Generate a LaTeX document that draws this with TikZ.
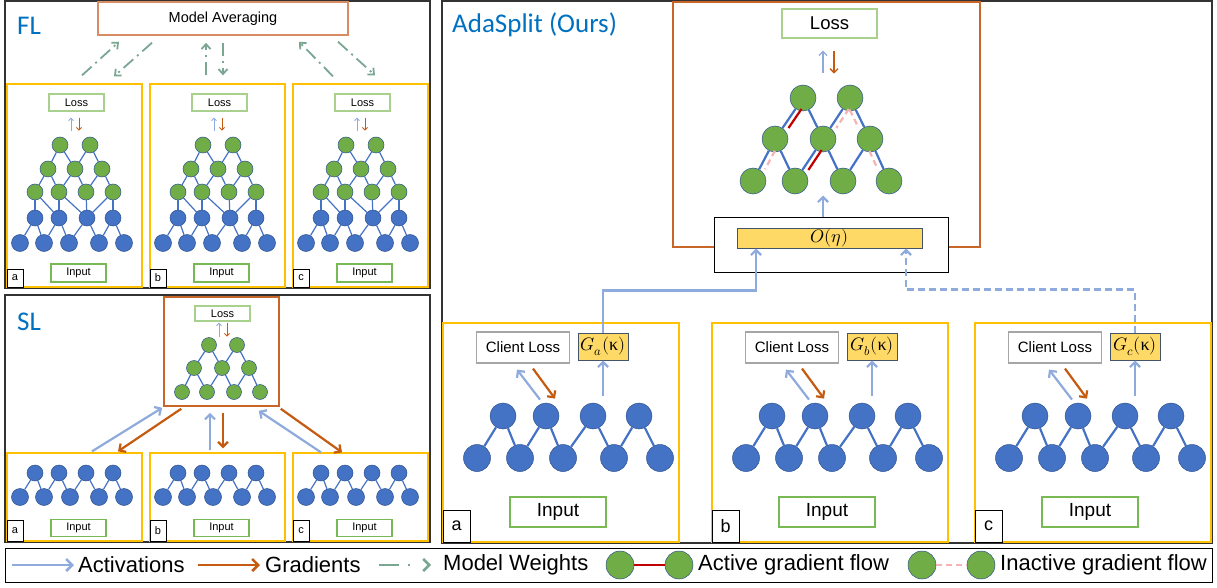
\documentclass[tikz,border=0pt]{standalone}
\usepackage{fontspec}
\usepackage{unicode-math}
\setmainfont{Liberation Sans}
\setmathfont{Latin Modern Math}
\newfontfamily\titlefont{Carlito}
\newfontfamily\greekfont{Liberation Serif}
\usetikzlibrary{arrows.meta}

\newcommand{\fsz}[1]{\fontsize{#1}{#1}\selectfont}

\definecolor{titleblue}{RGB}{0,112,192}
\definecolor{nodeblue}{RGB}{68,114,196}
\definecolor{nodeline}{RGB}{47,82,143}
\definecolor{nodegreen}{RGB}{112,173,71}
\definecolor{actblue}{RGB}{143,170,220}
\definecolor{gradorange}{RGB}{197,90,17}
\definecolor{weightgreen}{RGB}{122,166,146}
\definecolor{clientyellow}{RGB}{255,192,0}
\definecolor{lossgreen}{RGB}{169,209,142}
\definecolor{inputgreen}{RGB}{120,185,85}
\definecolor{avgorange}{RGB}{216,140,100}
\definecolor{serverorange}{RGB}{200,102,42}
\definecolor{gyellow}{RGB}{255,217,102}
\definecolor{gborder}{RGB}{68,84,106}
\definecolor{activered}{RGB}{192,0,0}
\definecolor{inactivepink}{RGB}{244,180,180}
\definecolor{clientgray}{RGB}{166,166,166}

\tikzset{
  panel/.style={draw=black!80, line width=1.2},
  clientbox/.style={draw=clientyellow, line width=1.3, inner sep=0},
  serverbox/.style={draw=serverorange, line width=1.6, inner sep=0},
  bluenode/.style={circle, fill=nodeblue, draw=nodeline, line width=0.5, inner sep=0, minimum size=16},
  greennode/.style={bluenode, fill=nodegreen},
  netedge/.style={draw=nodeblue, line width=1.2},
  textbox/.style={fill=white, line width=1.2, inner sep=0},
  lossbox/.style={textbox, draw=lossgreen},
  inputbox/.style={textbox, draw=inputgreen},
  tagbox/.style={textbox, draw=black, line width=0.9},
  gbox/.style={fill=gyellow, draw=gborder, line width=1, inner sep=0},
  act/.style={draw=actblue, line width=2.2, -{Straight Barb[length=5pt,width=10pt]}},
  grad/.style={draw=gradorange, line width=2.2, -{Straight Barb[length=5pt,width=10pt]}},
  smallact/.style={act, line width=0.9, -{Straight Barb[length=2.5pt,width=5pt]}},
  smallgrad/.style={grad, line width=0.9, -{Straight Barb[length=2.5pt,width=5pt]}},
  weights/.style={draw=weightgreen, line width=1.8, dash pattern=on 13pt off 5pt on 2pt off 5pt, -{Straight Barb[length=5pt,width=9pt]}},
  activeflow/.style={draw=activered, line width=2.2},
  inactiveflow/.style={draw=inactivepink, line width=2.2, dash pattern=on 6pt off 4pt},
  legendtext/.style={anchor=west, inner sep=0, font=\fsz{22}},
}

\begin{document}
\begin{tikzpicture}[x=1pt, y=-1pt]
  \useasboundingbox (0,0) rectangle (1217,588);

  % ----- FL -----
  \draw[panel] (5,1) rectangle (430,288);
  \node[anchor=west, inner sep=0, text=titleblue, font=\titlefont\fsz{27}] (FLtitle) at (17,26) {FL};
  \node[draw=avgorange, line width=1.5, fill=white, minimum width=250, minimum height=33, font=\fsz{14.5}] (avg) at (223,18.5) {Model Averaging};
  \foreach \c/\L in {a/7,b/150,c/293}{
    \node[clientbox, minimum width=135, minimum height=203] (FL\c_box) at (\L+67.5,185.5) {};
    \node[lossbox, minimum width=55, minimum height=17, font=\fsz{11}] (FL\c_loss) at (\L+69.5,102.5) {Loss};
    \node[inputbox, minimum width=55, minimum height=18, font=\fsz{11}] (FL\c_in) at (\L+71.5,273) {Input};
    \node[tagbox, minimum width=16, minimum height=18, font=\fsz{11}] (FL\c_tag) at (\L+8,278) {\c};
    \foreach \i/\x in {1/53,2/83} \node[greennode] (FL\c_1_\i) at (\L+\x,145) {};
    \foreach \i/\x in {1/41,2/68,3/95} \node[greennode] (FL\c_2_\i) at (\L+\x,169) {};
    \foreach \i/\x in {1/28,2/52,3/79,4/106} \node[greennode] (FL\c_3_\i) at (\L+\x,192) {};
    \foreach \i/\x in {1/28,2/52,3/80,4/106} \node[bluenode] (FL\c_4_\i) at (\L+\x,218) {};
    \foreach \i/\x in {1/13,2/37,3/62,4/92,5/117} \node[bluenode, minimum size=17] (FL\c_5_\i) at (\L+\x,243) {};
    \foreach \i/\j in {1/1,1/2,2/2,2/3} \draw[netedge] (FL\c_1_\i) -- (FL\c_2_\j);
    \foreach \i/\j in {1/1,1/2,2/2,2/3,3/3,3/4} \draw[netedge] (FL\c_2_\i) -- (FL\c_3_\j);
    \foreach \i/\j in {1/1,1/2,2/2,2/3,3/3,4/3,4/4} \draw[netedge] (FL\c_3_\i) -- (FL\c_4_\j);
    \foreach \i/\j in {1/1,1/2,2/2,2/3,3/3,3/4,4/4,4/5} \draw[netedge] (FL\c_4_\i) -- (FL\c_5_\j);
    \draw[smallact] ([shift={(-5.5,19)}]FL\c_loss.south) -- ++(0,-13);
    \draw[smallgrad] ([shift={(2.5,6)}]FL\c_loss.south) -- ++(0,13);
  }
  \draw[weights] ([shift={(7.5,-8)}]FLa_box.north) -- ([shift={(-104,6)}]avg.south);
  \draw[weights] ([shift={(-71,7)}]avg.south) -- ([shift={(39.5,-7)}]FLa_box.north);
  \draw[weights] ([shift={(-11.5,-8)}]FLb_box.north) -- ([shift={(-17,7)}]avg.south);
  \draw[weights] ([shift={(0,7)}]avg.south) -- ([shift={(5.5,-8)}]FLb_box.north);
  \draw[weights] ([shift={(-27.5,-7)}]FLc_box.north) -- ([shift={(76,6)}]avg.south);
  \draw[weights] ([shift={(115,6)}]avg.south) -- ([shift={(14.5,-8)}]FLc_box.north);

  % ----- SL -----
  \draw[panel] (5,295) rectangle (430,542);
  \node[anchor=west, inner sep=0, text=titleblue, font=\titlefont\fsz{27}] (SLtitle) at (17,322) {SL};
  \node[serverbox, minimum width=115, minimum height=109] (SLsrv) at (221.5,351.5) {};
  \node[lossbox, minimum width=55, minimum height=15, font=\fsz{11}] (SLloss) at (222.5,313.5) {Loss};
  \foreach \i/\x in {1/209,2/237} \node[greennode, minimum size=15] (SL_1_\i) at (\x,345) {};
  \foreach \i/\x in {1/194,2/222,3/249} \node[greennode, minimum size=15] (SL_2_\i) at (\x,368) {};
  \foreach \i/\x in {1/182,2/207,3/234,4/260} \node[greennode, minimum size=15] (SL_3_\i) at (\x,392) {};
  \foreach \i/\j in {1/1,1/2,2/2,2/3} \draw[netedge] (SL_1_\i) -- (SL_2_\j);
  \foreach \i/\j in {1/1,1/2,2/2,2/3,3/3,3/4} \draw[netedge] (SL_2_\i) -- (SL_3_\j);
  \draw[smallact] ([shift={(-3.5,15)}]SLloss.south) -- ++(0,-14);
  \draw[smallgrad] ([shift={(4.5,1)}]SLloss.south) -- ++(0,14);
  \foreach \c/\L in {a/7,b/150,c/293}{
    \node[clientbox, minimum width=135, minimum height=88] (SL\c_box) at (\L+67.5,497) {};
    \node[inputbox, minimum width=55, minimum height=17, font=\fsz{11}] (SL\c_in) at (\L+71.5,528) {Input};
    \node[tagbox, minimum width=16, minimum height=21, font=\fsz{11}] (SL\c_tag) at (\L+8,530.5) {\c};
    \foreach \i/\x in {1/28,2/52,3/79,4/106} \node[bluenode] (SL\c_1_\i) at (\L+\x,473) {};
    \foreach \i/\x in {1/13,2/37,3/63,4/92,5/117} \node[bluenode, minimum size=17] (SL\c_2_\i) at (\L+\x,497) {};
    \foreach \i/\j in {1/1,1/2,2/2,2/3,3/3,3/4,4/4,4/5} \draw[netedge] (SL\c_1_\i) -- (SL\c_2_\j);
  }
  \draw[act] ([shift={(17.5,-1)}]SLa_box.north) -- ([shift={(-1,1)}]SLsrv.south west);
  \draw[grad] ([shift={(18,2)}]SLsrv.south west) -- ([shift={(43.5,-1)}]SLa_box.north);
  \draw[act] ([shift={(-7.5,-2)}]SLb_box.north) -- ([shift={(-11.5,6)}]SLsrv.south);
  \draw[grad] ([shift={(1.5,6)}]SLsrv.south) -- ([shift={(5.5,-4)}]SLb_box.north);
  \draw[act] ([shift={(-39.5,0)}]SLc_box.north) -- ([shift={(-21,4)}]SLsrv.south east);
  \draw[grad] ([shift={(1,2)}]SLsrv.south east) -- ([shift={(-18.5,0)}]SLc_box.north);

  % ----- AdaSplit -----
  \draw[panel] (442,1) rectangle (1212,543);
  \node[anchor=west, inner sep=0, text=titleblue, font=\titlefont\fsz{27}] (AStitle) at (452,25) {AdaSplit (Ours)};
  \node[serverbox, line width=2, minimum width=307, minimum height=245] (ASsrv) at (826.5,124.5) {};
  \node[lossbox, minimum width=95, minimum height=29, font=\fsz{18.5}] (ASloss) at (829.5,23.5) {Loss};
  \draw[act, line width=1.3, -{Straight Barb[length=4pt,width=8pt]}] ([shift={(-6.5,34)}]ASloss.south) -- ++(0,-22);
  \draw[grad, line width=1.3, -{Straight Barb[length=4pt,width=8pt]}] ([shift={(4.5,12)}]ASloss.south) -- ++(0,23);
  \foreach \i/\x/\y in {1/803/98,2/850/98,3/775/139,4/823/139,5/870/139,6/753/181,7/795/181,8/843/181,9/889/181}
    \node[greennode, minimum size=26] (AS_\i) at (\x,\y) {};
  \foreach \i/\j in {1/3,1/4,2/4,2/5,3/6,3/7,4/7,4/8,5/8,5/9} \draw[netedge, line width=2.2] (AS_\i) -- (AS_\j);
  \draw[activeflow, transform canvas={xshift=6pt}] (AS_1) -- (AS_3);
  \draw[activeflow, transform canvas={xshift=6pt}] (AS_4) -- (AS_7);
  \draw[inactiveflow, transform canvas={xshift=6pt}] (AS_2) -- (AS_4);
  \draw[inactiveflow, transform canvas={xshift=-6pt}] (AS_2) -- (AS_5);
  \draw[inactiveflow, transform canvas={xshift=6pt}] (AS_3) -- (AS_6);
  \draw[inactiveflow, transform canvas={xshift=-6pt}] (AS_5) -- (AS_9);
  \node[draw=black, fill=white, line width=1, minimum width=234, minimum height=55] (obox) at (831,244.5) {};
  \node[gbox, minimum width=185, minimum height=20, font=\fsz{18}] (obar) at (829.5,238) {$O(\eta)$};
  \draw[act] ([xshift=-8pt]obox.north) -- ++(0,-21);
  \foreach \c/\L in {a/443,b/712,c/975}{
    \node[clientbox, minimum width=236, minimum height=219] (AS\c_box) at (\L+118,432.5) {};
    \node[textbox, draw=clientgray, minimum width=93, minimum height=31, font=\fsz{15}] (AS\c_cl) at (\L+80,347.5) {Client Loss};
    \node[gbox, minimum width=50, minimum height=27, font=\fsz{18}] (AS\c_g) at (\L+160,346.5) {$G_\c(\mbox{\greekfont κ})$};
    \node[inputbox, minimum width=96, minimum height=30, font=\fsz{19}] (AS\c_in) at (\L+115,512) {Input};
    \node[tagbox, minimum width=27, minimum height=32, font=\fsz{18}] (AS\c_tag) at (\L+13.5,526) {\c};
    \foreach \i/\x in {1/60,2/103,3/150,4/196} \node[bluenode, minimum size=26] (AS\c_1_\i) at (\L+\x,416) {};
    \foreach \i/\x in {1/34,2/77,3/120,4/171,5/217} \node[bluenode, minimum size=27] (AS\c_2_\i) at (\L+\x,458) {};
    \foreach \i/\j in {1/1,1/2,2/2,2/3,3/3,3/4,4/4,4/5} \draw[netedge, line width=2.2] (AS\c_1_\i) -- (AS\c_2_\j);
    \draw[act] ([shift={(17,36)}]AS\c_cl.south) -- ([shift={(-6,6)}]AS\c_cl.south);
    \draw[grad] ([shift={(10,5)}]AS\c_cl.south) -- ([shift={(32,35)}]AS\c_cl.south);
    \draw[act] ([shift={(0,35)}]AS\c_g.south) -- (AS\c_g.south);
  }
  \draw[act] (ASa_g.north) -- ++(0,-42) -| ([xshift=-73.5pt]obar.south);
  \draw[act, dash pattern=on 7pt off 4pt] (ASc_g.north) -- ++(0,-43) -| ([xshift=76.5pt]obar.south);

  % ----- legend -----
  \draw[black, line width=1] (5,548) rectangle (1212,582);
  \node[legendtext] (lgact) at (78,565) {Activations};
  \node[legendtext] (lggrad) at (265,565) {Gradients};
  \node[legendtext] (lgwts) at (443,565) {Model Weights};
  \node[greennode, minimum size=28] (lgc1) at (620,565) {};
  \node[greennode, minimum size=28] (lgc2) at (679,565) {};
  \node[legendtext] (lgon) at (698,565) {Active gradient flow};
  \node[greennode, minimum size=28] (lgc3) at (922,565) {};
  \node[greennode, minimum size=28] (lgc4) at (981,565) {};
  \node[legendtext] (lgoff) at (1000,565) {Inactive gradient flow};
  \draw[act, line width=2.5, -{Straight Barb[length=6pt,width=12pt]}] ([xshift=-66pt]lgact.west) -- ([xshift=-4pt]lgact.west);
  \draw[grad, line width=2.5, -{Straight Barb[length=6pt,width=12pt]}] ([xshift=-67pt]lggrad.west) -- ([xshift=-5pt]lggrad.west);
  \draw[weights, line width=2.5, dash pattern=on 20pt off 9pt on 2pt off 40pt, -{Straight Barb[length=6pt,width=12pt]}] ([xshift=-64pt]lgwts.west) -- ([xshift=-12pt]lgwts.west);
  \draw[activeflow] (lgc1) -- (lgc2);
  \draw[inactiveflow] (lgc3) -- (lgc4);
\end{tikzpicture}
\end{document}
